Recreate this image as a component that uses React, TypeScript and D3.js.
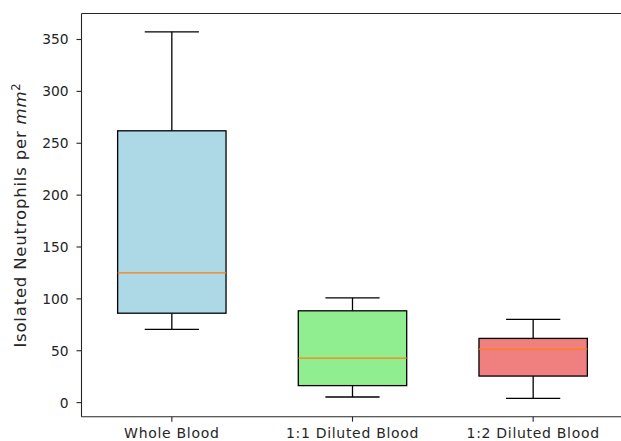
import React from "react";
import * as d3 from "d3";

// Box-plot summary per sample type
const categories = ["Whole Blood", "1:1 Diluted Blood", "1:2 Diluted Blood"];
const whiskerLow = [70.6, 5.4, 4.1];
const q1 = [86.2, 16.4, 25.6];
const median = [125.1, 42.9, 51.6];
const q3 = [262, 88.5, 61.9];
const whiskerHigh = [357.4, 101, 80.2];
const boxColors = ["lightblue", "lightgreen", "lightcoral"];
const yTicks = [0, 50, 100, 150, 200, 250, 300, 350];

const W = 621;
const H = 441;
const left = 81.5;
const right = 623.5;
const top = 13.5;
const bottom = 416.7;

export default function App() {
  const lo = d3.min(whiskerLow)!;
  const hi = d3.max(whiskerHigh)!;
  const pad = (hi - lo) * 0.05;
  const y = d3.scaleLinear().domain([lo - pad, hi + pad]).range([bottom, top]);
  const x = d3.scaleLinear().domain([0.5, 3.5]).range([left, right]);
  const boxW = x(0.6) - x(0);
  const capW = x(0.3) - x(0);
  const font = "'DejaVu Sans', sans-serif";
  const ink = "#262626";

  return (
    <svg
      width={W}
      height={H}
      style={{ position: "absolute", left: 0, top: 0, background: "#fff" }}
      fontFamily={font}
    >
      {categories.map((c, i) => {
        const cx = x(i + 1);
        return (
          <g key={c}>
            <line x1={cx} x2={cx} y1={y(whiskerHigh[i])} y2={y(q3[i])} stroke="#000" strokeWidth={1.3} />
            <line x1={cx} x2={cx} y1={y(q1[i])} y2={y(whiskerLow[i])} stroke="#000" strokeWidth={1.3} />
            <line x1={cx - capW / 2} x2={cx + capW / 2} y1={y(whiskerHigh[i])} y2={y(whiskerHigh[i])} stroke="#000" strokeWidth={1.3} />
            <line x1={cx - capW / 2} x2={cx + capW / 2} y1={y(whiskerLow[i])} y2={y(whiskerLow[i])} stroke="#000" strokeWidth={1.3} />
            <rect
              x={cx - boxW / 2}
              y={y(q3[i])}
              width={boxW}
              height={y(q1[i]) - y(q3[i])}
              fill={boxColors[i]}
              stroke="#000"
              strokeWidth={1.3}
            />
            <line x1={cx - boxW / 2} x2={cx + boxW / 2} y1={y(median[i])} y2={y(median[i])} stroke="#ff7f0e" strokeWidth={1.3} />
          </g>
        );
      })}

      {/* frame */}
      <line x1={left} x2={right} y1={top} y2={top} stroke={ink} strokeWidth={1.1} />
      <line x1={left} x2={right} y1={bottom} y2={bottom} stroke={ink} strokeWidth={1.1} />
      <line x1={left} x2={left} y1={top} y2={bottom} stroke={ink} strokeWidth={1.1} />
      <line x1={right} x2={right} y1={top} y2={bottom} stroke={ink} strokeWidth={1.1} />

      {/* y axis */}
      {yTicks.map((t) => (
        <g key={t} transform={`translate(0,${y(t)})`}>
          <line x1={left - 5} x2={left} stroke={ink} strokeWidth={1.1} />
          <text x={left - 13} dy="0.36em" textAnchor="end" fontSize={13.8} fill={ink}>
            {t}
          </text>
        </g>
      ))}

      {/* x axis */}
      {categories.map((c, i) => (
        <g key={c} transform={`translate(${x(i + 1)},${bottom})`}>
          <line y1={0} y2={5} stroke={ink} strokeWidth={1.1} />
          <text y={21.5} textAnchor="middle" fontSize={14} letterSpacing={0.7} fill={ink}>
            {c}
          </text>
        </g>
      ))}

      <text
        transform={`translate(26,${(top + bottom) / 2}) rotate(-90)`}
        textAnchor="middle"
        fontSize={16.5}
        letterSpacing={0.8}
        fill={ink}
      >
        Isolated Neutrophils per <tspan fontStyle="italic">mm</tspan>
        <tspan dy={-6} fontSize={11.5}>2</tspan>
      </text>
    </svg>
  );
}
